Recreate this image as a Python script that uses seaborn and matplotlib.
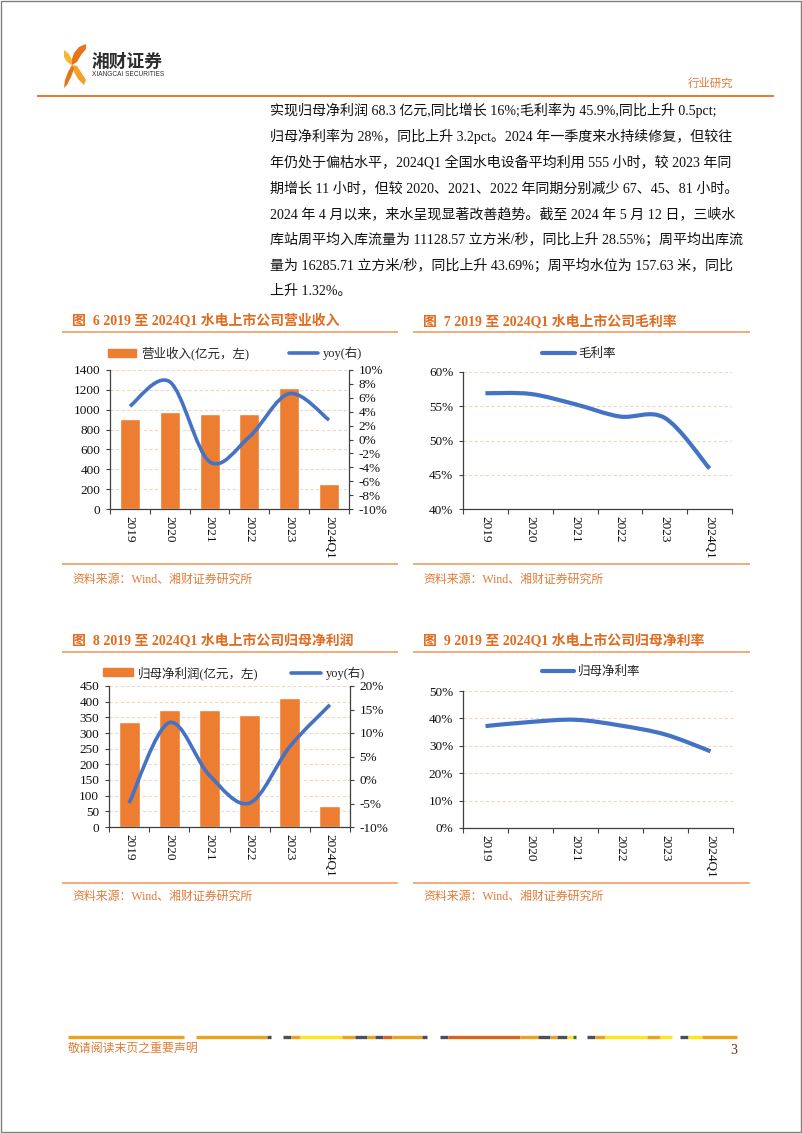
import numpy as np
import pandas as pd
import matplotlib
matplotlib.use("Agg")
import matplotlib.pyplot as plt
import seaborn as sns
from matplotlib.path import Path
from matplotlib.patches import PathPatch, Rectangle, Polygon
from matplotlib.lines import Line2D
from matplotlib.ticker import FuncFormatter

# ---------------- data ----------------
categories = ["2019", "2020", "2021", "2022", "2023", "2024Q1"]
revenue = [906, 980, 953, 956, 1221, 248]            # 营业收入(亿元)
revenue_yoy = [4.8, 8.3, -3.2, 0.4, 6.6, 2.8]        # %
gross_margin = [56.9, 56.8, 55.3, 53.5, 53.3, 45.9]  # %
net_profit = [336, 375, 372, 356, 412, 68]           # 归母净利润(亿元)
net_profit_yoy = [-4.9, 12.2, 1.0, -4.9, 7.1, 16.0]  # %
net_margin = [37.2, 38.7, 39.5, 37.4, 34.1, 28.0]    # %

titles = ["图  6 2019 至 2024Q1 水电上市公司营业收入",
          "图  7 2019 至 2024Q1 水电上市公司毛利率",
          "图  8 2019 至 2024Q1 水电上市公司归母净利润",
          "图  9 2019 至 2024Q1 水电上市公司归母净利率"]
source_text = "资料来源：Wind、湘财证券研究所"
body_lines = [
    "实现归母净利润 68.3 亿元,同比增长 16%;毛利率为 45.9%,同比上升 0.5pct;",
    "归母净利率为 28%，同比上升 3.2pct。2024 年一季度来水持续修复，但较往",
    "年仍处于偏枯水平，2024Q1 全国水电设备平均利用 555 小时，较 2023 年同",
    "期增长 11 小时，但较 2020、2021、2022 年同期分别减少 67、45、81 小时。",
    "2024 年 4 月以来，来水呈现显著改善趋势。截至 2024 年 5 月 12 日，三峡水",
    "库站周平均入库流量为 11128.57 立方米/秒，同比上升 28.55%；周平均出库流",
    "量为 16285.71 立方米/秒，同比上升 43.69%；周平均水位为 157.63 米，同比",
    "上升 1.32%。",
]

# ---------------- style ----------------
sns.set_theme(style="white")
plt.rcParams["font.family"] = ["Liberation Serif", "Noto Sans CJK SC", "DejaVu Sans"]
plt.rcParams["axes.unicode_minus"] = False

ORANGE = "#ED7D31"
BLUE = "#4472C4"
GRID = "#EBD8C6"
SPINE = "#404040"
TITLE_C = "#E26B1F"
LINE_C = "#F2A46E"
SRC_C = "#E07B39"

W, H = 802, 1133
fig = plt.figure(figsize=(W / 100, H / 100), dpi=100)
fig.patch.set_facecolor("white")


def fx(x):
    return x / W


def fy(y):
    return 1 - y / H


def add_axes_px(x0, y0, x1, y1):
    return fig.add_axes([fx(x0), fy(y1), (x1 - x0) / W, (y1 - y0) / H])


def ftext(x, y, s, **kw):
    kw.setdefault("va", "center")
    return fig.text(fx(x), fy(y), s, **kw)


def hline(x0, x1, y, color, lw):
    fig.add_artist(Line2D([fx(x0), fx(x1)], [fy(y), fy(y)],
                          transform=fig.transFigure, color=color, lw=lw,
                          solid_capstyle="butt"))


def smooth_path(xs, ys):
    pts = np.column_stack([xs, ys]).astype(float)
    n = len(pts)
    verts = [pts[0]]
    codes = [Path.MOVETO]
    for i in range(n - 1):
        p0 = pts[i - 1] if i > 0 else pts[i]
        p1 = pts[i]
        p2 = pts[i + 1]
        p3 = pts[i + 2] if i + 2 < n else pts[i + 1]
        c1 = p1 + (p2 - p0) / 6.0
        c2 = p2 - (p3 - p1) / 6.0
        verts += [c1, c2, p2]
        codes += [Path.CURVE4] * 3
    return Path(verts, codes)


def style_axes(ax, right=False):
    ax.spines["top"].set_visible(False)
    ax.spines["right"].set_visible(right)
    for s in ["left", "bottom", "right"]:
        ax.spines[s].set_color(SPINE)
        ax.spines[s].set_linewidth(0.9)
    ax.set_xlim(-0.5, len(categories) - 0.5)
    ax.set_xticks(range(len(categories)))
    ax.set_xticklabels(categories, rotation=-90, fontsize=9.5, color="#111111")
    ax.set_xticks(np.arange(-0.5, len(categories), 1.0), minor=True)
    ax.tick_params(axis="x", which="major", length=0, pad=5)
    ax.tick_params(axis="x", which="minor", length=3.5, width=0.8,
                   color=SPINE, direction="out", bottom=True)
    ax.tick_params(axis="y", which="major", length=3, width=0.8, color=SPINE,
                   direction="out", left=True, pad=4, labelsize=9.5,
                   labelcolor="#111111")
    ax.yaxis.grid(True, color=GRID, ls=(0, (3, 2)), lw=0.8)
    ax.xaxis.grid(False)
    ax.set_axisbelow(True)
    ax.set_xlabel("")
    ax.set_ylabel("")


def style_twin(ax2):
    for s in ["top", "left", "bottom"]:
        ax2.spines[s].set_visible(False)
    ax2.spines["right"].set_color(SPINE)
    ax2.spines["right"].set_linewidth(0.9)
    ax2.tick_params(axis="y", length=3, width=0.8, color=SPINE, direction="out",
                    right=True, pad=4, labelsize=9.5, labelcolor="#111111")
    ax2.grid(False)


pct = FuncFormatter(lambda v, p: f"{v:.0f}%")
pos = np.arange(len(categories))

# ---------------- chart 6: revenue ----------------
ax1 = add_axes_px(110, 370, 349, 509)
df1 = pd.DataFrame({"year": categories, "value": revenue})
sns.barplot(data=df1, x="year", y="value", color=ORANGE, saturation=1,
            width=0.5, ax=ax1, zorder=2)
ax1.set_ylim(0, 1400)
ax1.set_yticks(range(0, 1401, 200))
style_axes(ax1)
ax1b = ax1.twinx()
ax1b.set_ylim(-10, 10)
ax1b.set_yticks(range(-10, 11, 2))
ax1b.yaxis.set_major_formatter(pct)
style_twin(ax1b)
ax1b.add_patch(PathPatch(smooth_path(pos, revenue_yoy), fill=False,
                         edgecolor=BLUE, lw=2.6, joinstyle="round", capstyle="butt"))
ax1.legend(handles=[Rectangle((0, 0), 1, 1, color=ORANGE),
                    Line2D([], [], color=BLUE, lw=2.6)],
           labels=["营业收入(亿元，左)", "yoy(右)"], ncol=2, loc="center left",
           bbox_to_anchor=(-0.01, 1 + 17 / 139), frameon=False, fontsize=9,
           handlelength=2.3, handleheight=0.6, handletextpad=0.4,
           columnspacing=3.2, borderaxespad=0, borderpad=0)

# ---------------- chart 7: gross margin ----------------
ax2 = add_axes_px(463, 372, 732, 509)
ax2.set_ylim(40, 60)
ax2.set_yticks(range(40, 61, 5))
ax2.yaxis.set_major_formatter(pct)
style_axes(ax2)
ax2.add_patch(PathPatch(smooth_path(pos, gross_margin), fill=False,
                        edgecolor=BLUE, lw=3, joinstyle="round", capstyle="butt"))
ax2.legend(handles=[Line2D([], [], color=BLUE, lw=3)], labels=["毛利率"],
           loc="center", bbox_to_anchor=((579 - 463) / 269, 1 + 18 / 137),
           frameon=False, fontsize=9, handlelength=2.6, handletextpad=0.3,
           borderaxespad=0, borderpad=0)

# ---------------- chart 8: net profit ----------------
ax3 = add_axes_px(109, 686, 350, 827)
df3 = pd.DataFrame({"year": categories, "value": net_profit})
sns.barplot(data=df3, x="year", y="value", color=ORANGE, saturation=1,
            width=0.52, ax=ax3, zorder=2)
ax3.set_ylim(0, 450)
ax3.set_yticks(range(0, 451, 50))
style_axes(ax3)
ax3b = ax3.twinx()
ax3b.set_ylim(-10, 20)
ax3b.set_yticks(range(-10, 21, 5))
ax3b.yaxis.set_major_formatter(pct)
style_twin(ax3b)
ax3b.add_patch(PathPatch(smooth_path(pos, net_profit_yoy), fill=False,
                         edgecolor=BLUE, lw=2.6, joinstyle="round", capstyle="butt"))
ax3.legend(handles=[Rectangle((0, 0), 1, 1, color=ORANGE),
                    Line2D([], [], color=BLUE, lw=2.6)],
           labels=["归母净利润(亿元，左)", "yoy(右)"], ncol=2, loc="center left",
           bbox_to_anchor=(-0.025, 1 + 13 / 141), frameon=False, fontsize=9,
           handlelength=2.4, handleheight=0.6, handletextpad=0.4,
           columnspacing=2.6, borderaxespad=0, borderpad=0)

# ---------------- chart 9: net margin ----------------
ax4 = add_axes_px(463, 691, 733, 828)
ax4.set_ylim(0, 50)
ax4.set_yticks(range(0, 51, 10))
ax4.yaxis.set_major_formatter(pct)
style_axes(ax4)
ax4.add_patch(PathPatch(smooth_path(pos, net_margin), fill=False,
                        edgecolor=BLUE, lw=3, joinstyle="round", capstyle="butt"))
ax4.legend(handles=[Line2D([], [], color=BLUE, lw=3)], labels=["归母净利率"],
           loc="center", bbox_to_anchor=((591 - 463) / 270, 1 + 19 / 137),
           frameon=False, fontsize=9, handlelength=2.6, handletextpad=0.3,
           borderaxespad=0, borderpad=0)

# ---------------- chart titles / sources ----------------
blocks = [(72, 62, 398, 321, 332, 564, 580),
          (423, 413, 750, 321, 332, 564, 580),
          (72, 62, 398, 640, 652, 883, 897),
          (423, 413, 750, 640, 652, 883, 897)]
for t, (tx, lx0, lx1, ty, ly, by, sy) in zip(titles, blocks):
    ftext(tx, ty, t, fontsize=10, fontweight="bold", color=TITLE_C)
    hline(lx0, lx1, ly, LINE_C, 1.3)
    hline(lx0, lx1, by, LINE_C, 1.3)
    ftext(tx, sy, source_text, fontsize=8.6, color=SRC_C)

# ---------------- body text ----------------
for i, line in enumerate(body_lines):
    ftext(270, 110.5 + 25.9 * i, line, fontsize=10.1, color="#111111")

# ---------------- header ----------------
logo_parts = [
    ([(86, 44), (79, 47), (74, 53), (71, 62), (72, 65), (77, 62), (81, 55), (86, 49)], "#E8731A"),
    ([(64, 50), (69, 54), (72, 60), (72, 65), (67, 62), (64, 57)], "#F7B533"),
    ([(72, 65), (77, 66), (81, 72), (86, 80), (84, 85), (78, 79), (74, 72)], "#F4A12A"),
    ([(64, 88), (65, 80), (68, 72), (72, 65), (74, 69), (71, 77), (67, 85)], "#E8731A"),
]
for verts, col in logo_parts:
    fig.add_artist(Polygon([(fx(x), fy(y)) for x, y in verts], closed=True,
                           transform=fig.transFigure, facecolor=col, edgecolor="none"))
ftext(92, 62, "湘财证券", fontsize=12.8, family=["Noto Sans CJK SC"],
      fontweight="bold", color="#2E2E2E")
ftext(92, 74.5, "XIANGCAI SECURITIES", fontsize=4.7, family=["Liberation Sans"],
      color="#2E2E2E")
ftext(688, 83, "行业研究", fontsize=8.2, color=SRC_C)
hline(37, 774, 96, "#E8772E", 1.4)

# ---------------- footer ----------------
FO, FD, FY, FG, FK = "#EDA21C", "#D9661A", "#FFE61A", "#3A6A2A", "#4A4F5A"
footer_segments = [
    (68, 184, FO), (196, 267, FO), (267, 271, FK),
    (283, 291, FK), (291, 300, FO), (300, 342, FY), (342, 355, FO), (355, 367, FK),
    (367, 375, FO), (375, 383, FK), (383, 392, FD), (392, 422, FO), (422, 427, FK),
    (440, 448, FK), (448, 520, FD), (520, 538, FO), (538, 550, FK), (550, 557, FO),
    (557, 567, FK), (567, 573, FY), (573, 576, FG),
    (587, 595, FK), (595, 605, FO), (605, 647, FY), (647, 660, FO), (660, 672, FY),
    (680, 688, FK), (688, 702, FY), (702, 737, FO),
]
for x0, x1, c in footer_segments:
    hline(x0, x1, 1037, c, 2.4)
ftext(68, 1049, "敬请阅读末页之重要声明", fontsize=8.6, color=SRC_C)
ftext(730, 1050, "3", fontsize=10, color="#7F1F1F")

# page border
fig.add_artist(Rectangle((fx(0.5), fy(1132)), (W - 1.5) / W, (H - 1.5) / H,
                         transform=fig.transFigure, fill=False,
                         edgecolor="#808080", lw=1))

fig.savefig("out.png", dpi=100)
